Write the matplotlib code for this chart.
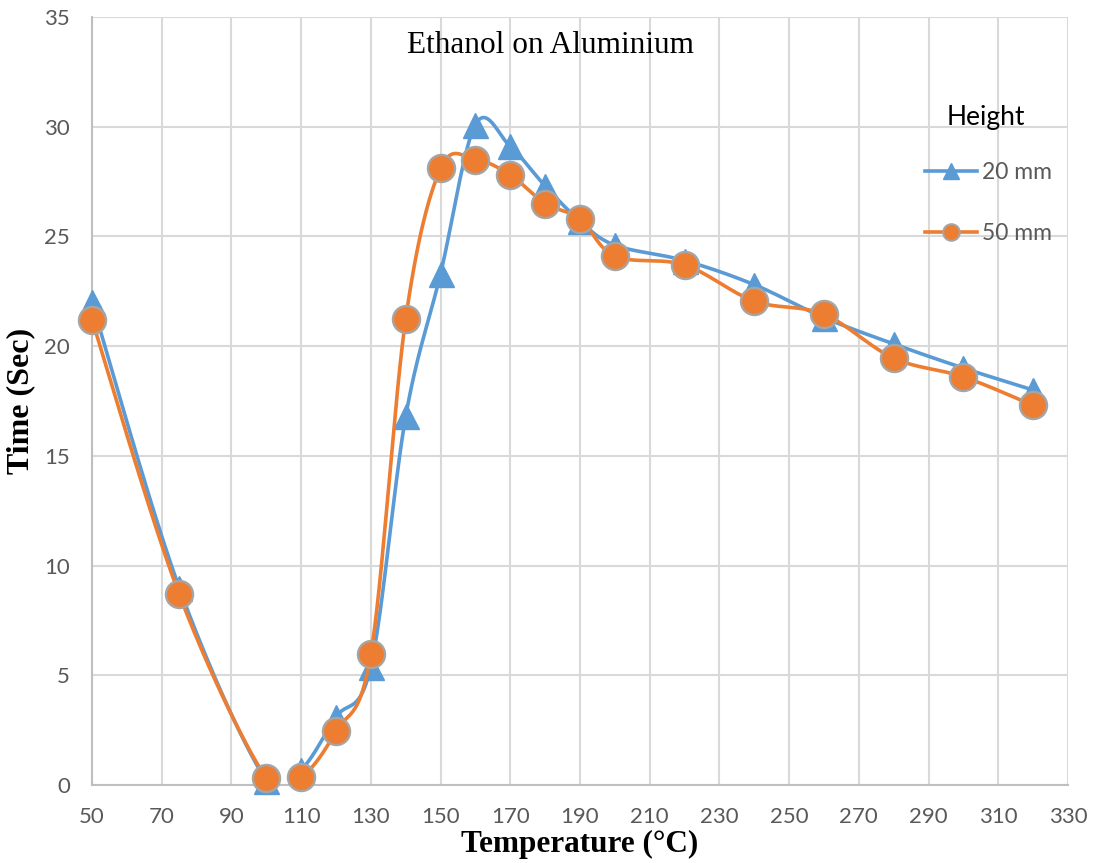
import matplotlib
matplotlib.use('Agg')
import matplotlib.pyplot as plt
from matplotlib.lines import Line2D
import numpy as np

# values
temps_20 = [50, 75, 100, 110, 120, 130, 140, 150, 160, 170, 180, 190, 200, 220, 240, 260, 280, 300, 320]
time_20 = [22.0, 9.0, 0.2, 0.7, 3.1, 5.4, 16.8, 23.3, 30.1, 29.1, 27.3, 25.7, 24.6, 23.9, 22.8, 21.3, 20.1, 19.0, 18.0]
temps_50 = [50, 75, 100, 110, 120, 130, 140, 150, 160, 170, 180, 190, 200, 220, 240, 260, 280, 300, 320]
time_50 = [21.2, 8.7, 0.3, 0.36, 2.45, 5.97, 21.25, 28.1, 28.5, 27.8, 26.5, 25.8, 24.1, 23.7, 22.05, 21.45, 19.45, 18.6, 17.3]

x_ticks = list(range(50, 331, 20))
y_ticks = list(range(0, 36, 5))

blue = '#5B9BD5'
orange = '#ED7D31'
grid_col = '#d9d9d9'
tick_col = '#595959'

# scale of the axes in pixels per data unit (used for Excel-like smoothing)
SX = 976 / 280
SY = 768 / 35


def smooth(x, y, n=30):
    # Catmull-Rom spline in screen space, like Excel's smoothed line
    px = np.asarray(x, float) * SX
    py = np.asarray(y, float) * SY
    P = np.column_stack([px, py])
    P = np.vstack([P[0], P, P[-1]])
    out = []
    for i in range(1, len(P) - 2):
        p0, p1, p2, p3 = P[i - 1], P[i], P[i + 1], P[i + 2]
        c1 = p1 + (p2 - p0) / 6
        c2 = p2 - (p3 - p1) / 6
        t = np.linspace(0, 1, n)[:, None]
        seg = ((1 - t) ** 3) * p1 + 3 * ((1 - t) ** 2) * t * c1 + 3 * (1 - t) * t ** 2 * c2 + t ** 3 * p2
        out.append(seg if i == 1 else seg[1:])
    out = np.vstack(out)
    return out[:, 0] / SX, out[:, 1] / SY


fig = plt.figure(figsize=(10.97, 8.63), dpi=100)
ax = fig.add_axes([92 / 1097, 1 - 785 / 863, 976 / 1097, 768 / 863])

sx, sy = smooth(temps_20, time_20)
ax.plot(sx, sy, color=blue, lw=2.6, zorder=3, solid_capstyle='round')
ax.plot(temps_20, time_20, ls='none', marker='^', ms=18, color=blue, mec=blue, zorder=4, clip_on=False)

sx, sy = smooth(temps_50, time_50)
ax.plot(sx, sy, color=orange, lw=2.6, zorder=5, solid_capstyle='round')
ax.plot(temps_50, time_50, ls='none', marker='o', ms=19.5, color=orange, mec='#a5a5a5', mew=1.7, zorder=6, clip_on=False)

ax.set_xlim(50, 330)
ax.set_ylim(0, 35)
ax.set_xticks(x_ticks)
ax.set_yticks(y_ticks)
ax.grid(True, color=grid_col, lw=1.5)
ax.set_axisbelow(True)
ax.tick_params(length=0, labelsize=16, labelcolor=tick_col)
ax.tick_params(axis='x', pad=16)
ax.tick_params(axis='y', pad=16)
for lab in ax.get_xticklabels() + ax.get_yticklabels():
    lab.set_fontfamily('Lato')
for s in ['top', 'right']:
    ax.spines[s].set_visible(False)
for s in ['left', 'bottom']:
    ax.spines[s].set_color('#bfbfbf')
    ax.spines[s].set_linewidth(1.5)

ax.set_xlabel('Temperature (°C)', fontfamily='Liberation Serif', fontweight='bold', fontsize=22.5, labelpad=2)
ax.set_ylabel('Time (Sec)', fontfamily='Liberation Serif', fontweight='bold', fontsize=23, labelpad=6)
ax.text(0.47, 0.963, 'Ethanol on Aluminium', transform=ax.transAxes, ha='center', va='center',
        fontfamily='Liberation Serif', fontsize=22.5)

# legend title drawn on its own so the gap to the entries matches
ax.text(0.916, 0.8685, 'Height', transform=ax.transAxes, ha='center', va='center',
        fontfamily='Lato', fontsize=19)
handles = [
    Line2D([], [], color=blue, lw=2.6, marker='^', ms=12, mec=blue),
    Line2D([], [], color=orange, lw=2.6, marker='o', ms=12, mfc=orange, mec='#a5a5a5', mew=1.4),
]
leg = ax.legend(handles, ['20 mm', '50 mm'], loc='upper right',
                bbox_to_anchor=(0.9836, 0.811), frameon=False, fontsize=16.5,
                handlelength=2.3, labelspacing=1.75, handletextpad=0.2, borderpad=0, borderaxespad=0)
for t in leg.get_texts():
    t.set_fontfamily('Lato')
    t.set_color(tick_col)

fig.savefig('out.png', dpi=100)
